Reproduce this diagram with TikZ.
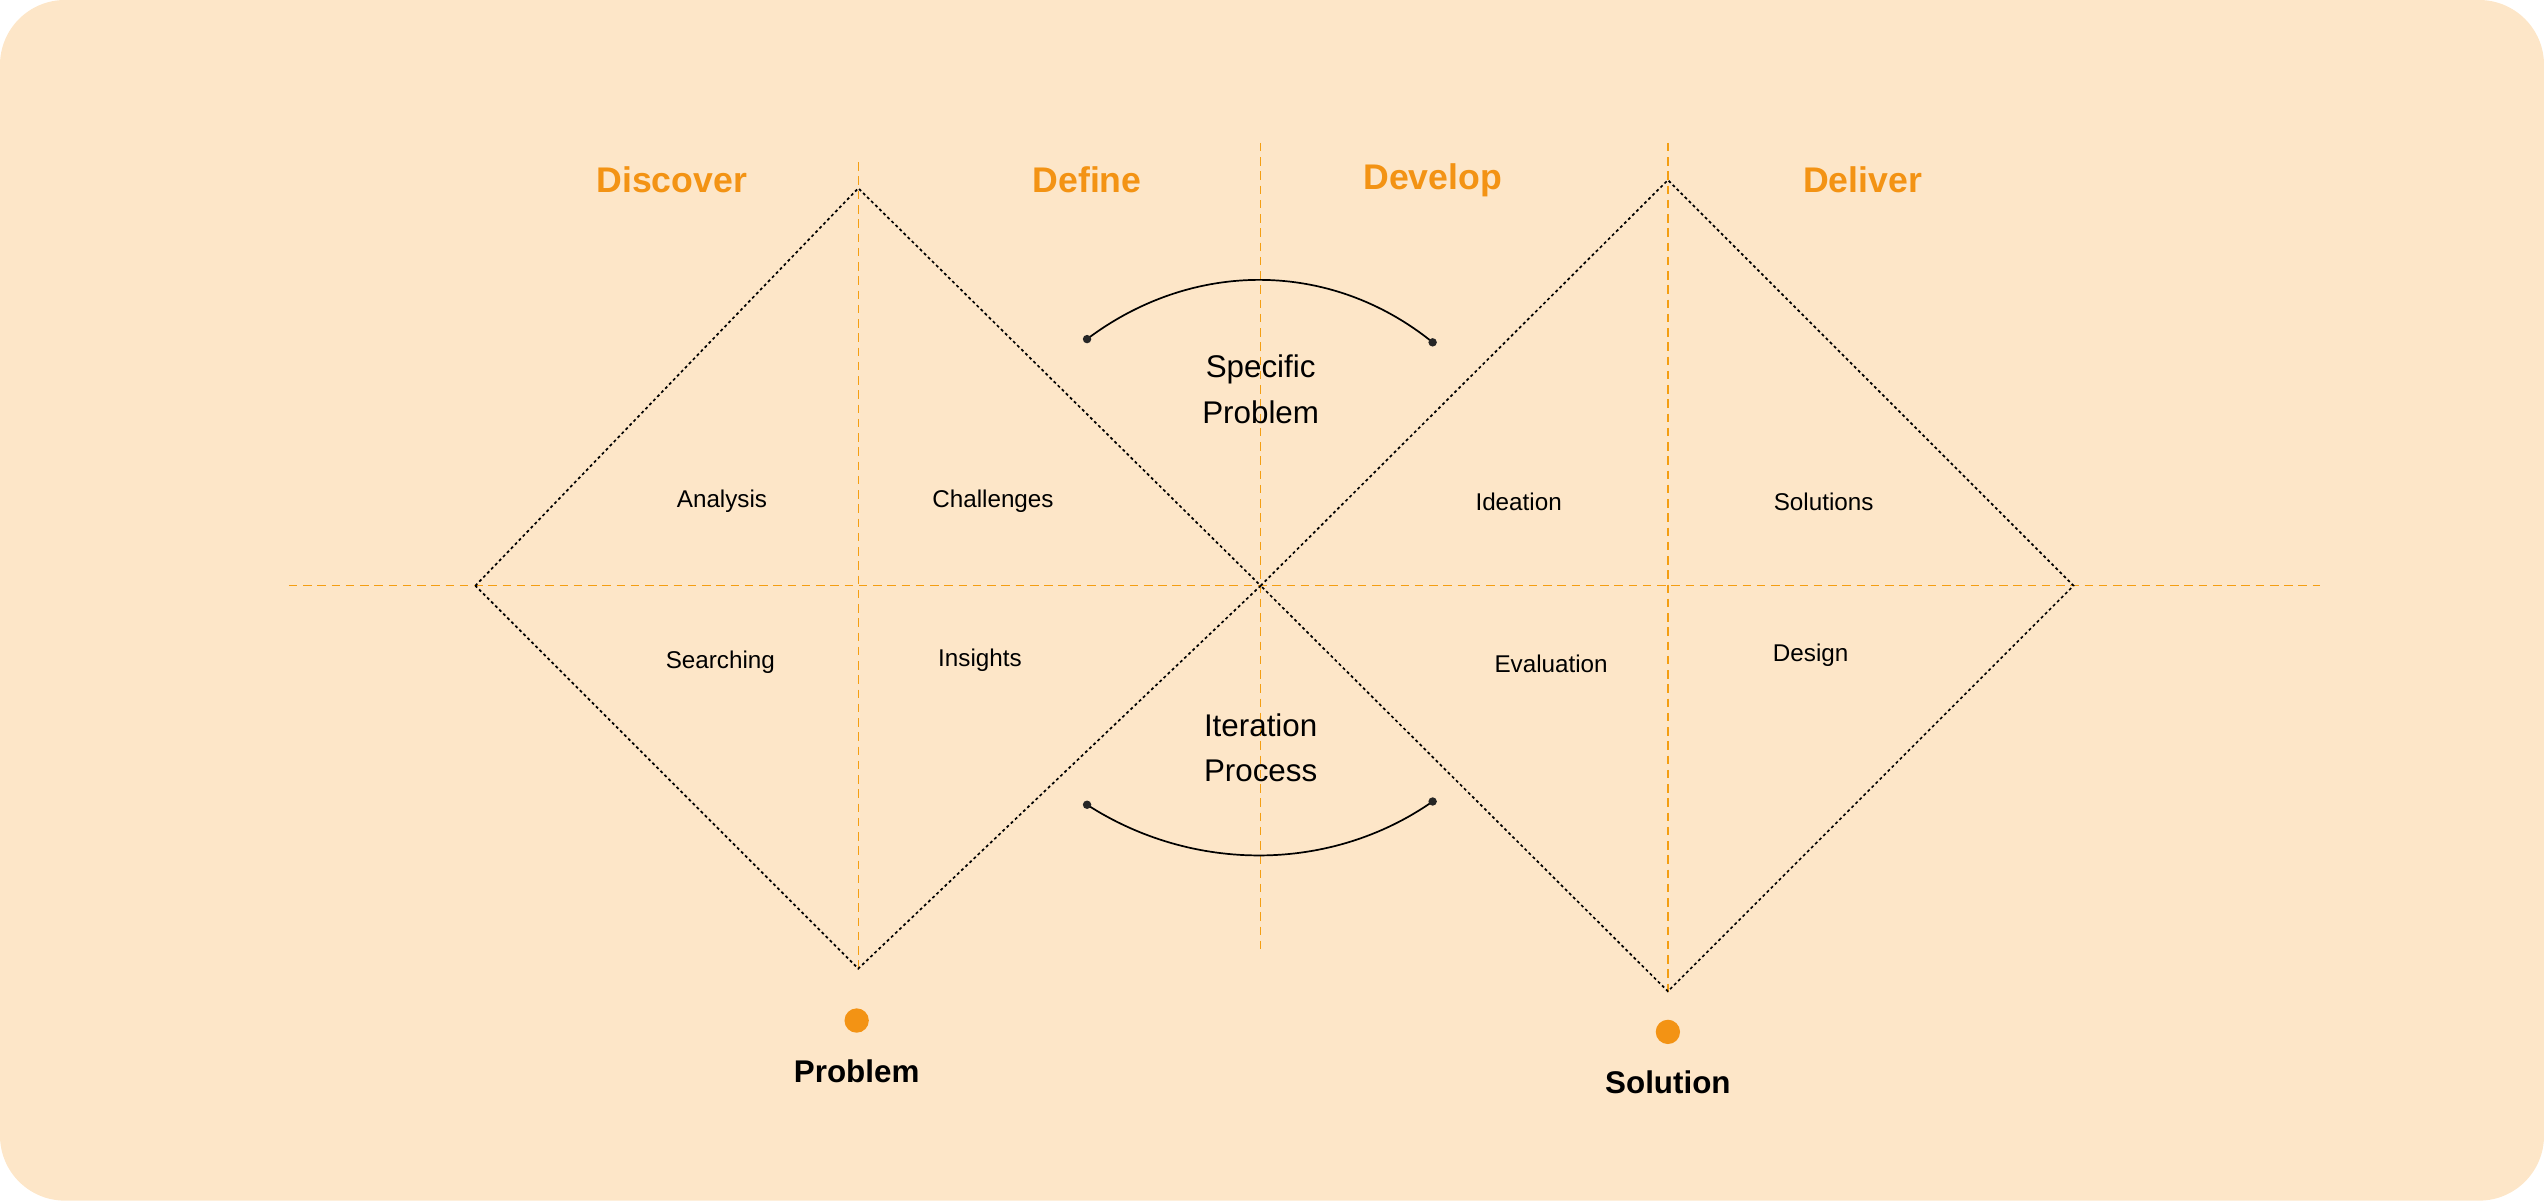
\documentclass[tikz,border=0pt]{standalone}
\usepackage{fontspec}
\setmainfont{Liberation Sans}
\begin{document}
\begin{tikzpicture}[x=0.02cm,y=-0.02cm,
  guide/.style={draw=orange!90!yellow,dashed,line width=0.5pt,dash pattern=on 3pt off 2pt},
  dia/.style={draw=black,line width=0.6pt,dash pattern=on 1pt off 1pt},
  phase/.style={text=phasec,font=\fontsize{12.5}{14}\selectfont\bfseries},
  lbl/.style={font=\fontsize{8.5}{10}\selectfont},
  mid/.style={font=\fontsize{11}{16}\selectfont,align=center},
  endlbl/.style={font=\fontsize{11}{13}\selectfont\bfseries}]
\definecolor{phasec}{HTML}{F39314}
\definecolor{bgc}{HTML}{FDE6C8}
\colorlet{orange}{phasec}
\fill[bgc,rounded corners=0.8cm] (0,0) rectangle (1568,740);
\useasboundingbox (0,0) rectangle (1568,740);
% guides
\draw[guide] (178,361) -- (1430,361);
\draw[guide] (529,100) -- (529,600);
\draw[guide] (777,88) -- (777,588);
\draw[guide] (1028,88) -- (1028,612);
% diamonds
\coordinate (L1) at (293,361); \coordinate (T1) at (529,116);
\coordinate (C) at (777,361); \coordinate (B1) at (529,597);
\coordinate (T2) at (1028,111); \coordinate (R2) at (1278,361);
\coordinate (B2) at (1028,611);
\draw[dia] (L1) -- (T1) -- (C) -- (B1) -- cycle;
\draw[dia] (C) -- (T2) -- (R2) -- (B2) -- cycle;
% phases
\node[phase] (p1) at (414,111) {Discover};
\node[phase] (p2) at (670,111) {Define};
\node[phase] (p3) at (883,111) {Develop};
\node[phase] (p4) at (1148,111) {Deliver};
% labels
\node[lbl] (a) at (445,309) {Analysis};
\node[lbl] (b) at (612,309) {Challenges};
\node[lbl] (c) at (444,408) {Searching};
\node[lbl] (d) at (604,407) {Insights};
\node[lbl] (e) at (936,309) {Ideation};
\node[lbl] (f) at (1124,309) {Solutions};
\node[lbl] (g) at (956,409) {Evaluation};
\node[lbl] (h) at (1116,404) {Design};
\node[mid] (sp) at (777,240) {Specific\\Problem};
\node[mid] (ip) at (777,461) {Iteration\\Process};
% arcs
\coordinate (a1) at (670,209); \coordinate (a2) at (883,211);
\coordinate (b1) at (670,496); \coordinate (b2) at (883,494);
\draw[line width=0.6pt] (a1) .. controls (735,160) and (820,160) .. (a2);
\draw[line width=0.6pt] (b1) .. controls (735,538) and (820,538) .. (b2);
\foreach \p in {a1,a2,b1,b2} \fill[black!85] (\p) circle (2.6);
% ends
\fill[phasec] (528,629) circle (7.5);
\fill[phasec] (1028,636) circle (7.5);
\node[endlbl] (pr) at (528,660) {Problem};
\node[endlbl] (so) at (1028,667) {Solution};
\end{tikzpicture}
\end{document}
